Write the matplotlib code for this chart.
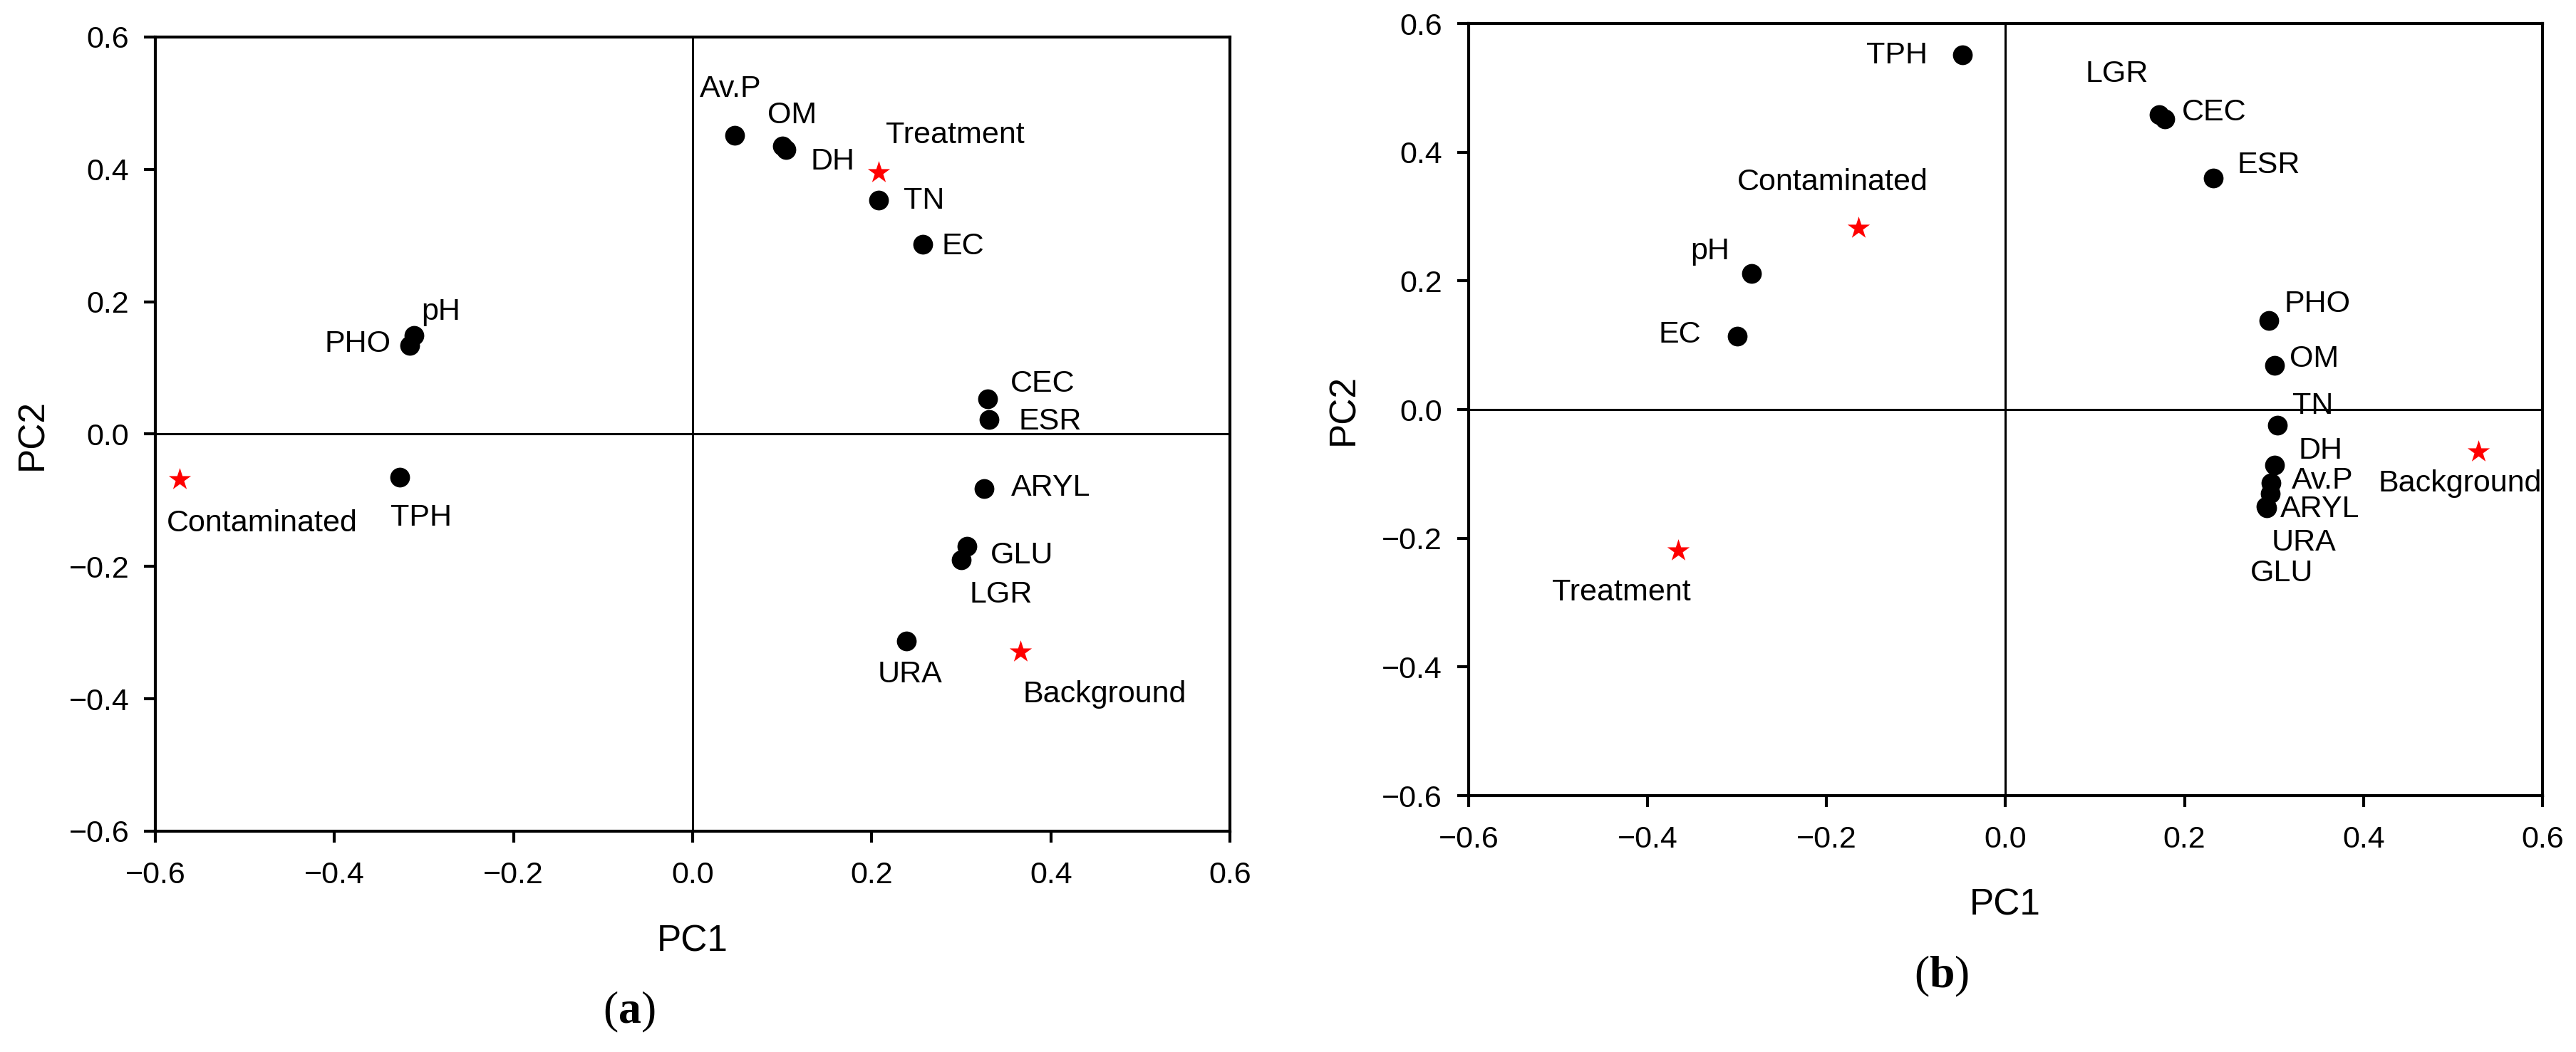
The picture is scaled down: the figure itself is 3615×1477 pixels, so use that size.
"""
PCA biplots of soil properties, panels (a) and (b)
"""

import matplotlib

matplotlib.use("Agg")
import matplotlib.pyplot as plt

plt.rcParams["font.family"] = ["Liberation Sans", "DejaVu Sans"]
plt.rcParams["mathtext.fontset"] = "custom"
plt.rcParams["mathtext.rm"] = "Liberation Serif"
plt.rcParams["mathtext.bf"] = "Liberation Serif:bold"

# panel (a) loadings
VARS_A = ["Av.P", "OM", "DH", "TN", "EC", "pH", "PHO", "CEC", "ESR", "TPH",
          "ARYL", "GLU", "LGR", "URA"]
PC1_A = [0.047, 0.100, 0.104, 0.208, 0.257, -0.311, -0.316, 0.329, 0.331,
         -0.327, 0.325, 0.306, 0.300, 0.239]
PC2_A = [0.451, 0.435, 0.430, 0.354, 0.287, 0.149, 0.134, 0.053, 0.022,
         -0.065, -0.082, -0.170, -0.190, -0.313]

SAMPLES_A = ["Treatment", "Contaminated", "Background"]
S_PC1_A = [0.208, -0.573, 0.366]
S_PC2_A = [0.395, -0.068, -0.329]

# panel (b) loadings
VARS_B = ["TPH", "LGR", "CEC", "ESR", "pH", "EC", "PHO", "OM", "TN", "DH",
          "Av.P", "ARYL", "URA", "GLU"]
PC1_B = [-0.048, 0.172, 0.178, 0.232, -0.284, -0.300, 0.294, 0.301, 0.304,
         0.301, 0.297, 0.296, 0.292, 0.291]
PC2_B = [0.551, 0.458, 0.452, 0.360, 0.212, 0.114, 0.139, 0.069, -0.024,
         -0.086, -0.114, -0.130, -0.153, -0.150]

SAMPLES_B = ["Contaminated", "Background", "Treatment"]
S_PC1_B = [-0.164, 0.528, -0.366]
S_PC2_B = [0.282, -0.065, -0.219]

TICKS = [-0.6, -0.4, -0.2, 0.0, 0.2, 0.4, 0.6]

# label offsets (data units) from each marker
OFF_A = [(-0.005, 0.070), (0.011, 0.047), (0.052, -0.018), (0.050, -0.002),
         (0.045, -0.003), (0.030, 0.036), (-0.058, 0.002), (0.062, 0.023),
         (0.068, -0.003), (0.024, -0.062), (0.075, 0.001), (0.062, -0.014),
         (0.044, -0.053), (0.004, -0.050)]
S_OFF_A = [(0.085, 0.056), (0.092, -0.067), (0.094, -0.064)]
OFF_B = [(-0.073, -0.001), (-0.048, 0.064), (0.055, 0.010), (0.062, 0.020),
         (-0.046, 0.034), (-0.064, 0.002), (0.054, 0.025), (0.044, 0.010),
         (0.039, 0.030), (0.051, 0.022), (0.057, 0.003), (0.055, -0.025),
         (0.041, -0.054), (0.018, -0.105)]
S_OFF_B = [(-0.029, 0.071), (-0.020, -0.050), (-0.063, -0.065)]

FS = 31


def draw_panel(ax, names, pc1, pc2, offs, snames, spc1, spc2, soffs):
    ax.axhline(0, color="black", lw=2.2, zorder=1)
    ax.axvline(0, color="black", lw=2.2, zorder=1)
    ax.scatter(pc1, pc2, s=400, color="black", zorder=3, linewidths=0)
    ax.scatter(spc1, spc2, s=560, marker="*", color="red", zorder=3,
               linewidths=0)
    for n, x, y, (dx, dy) in zip(names, pc1, pc2, offs):
        ax.text(x + dx, y + dy, n, fontsize=FS, ha="center", va="center",
                zorder=4)
    for n, x, y, (dx, dy) in zip(snames, spc1, spc2, soffs):
        ax.text(x + dx, y + dy, n, fontsize=FS, ha="center", va="center",
                zorder=4, clip_on=False)

    ax.set_xlim(-0.6, 0.6)
    ax.set_ylim(-0.6, 0.6)
    ax.set_xticks(TICKS)
    ax.set_yticks(TICKS)
    ax.set_xticklabels([f"{t:.1f}".replace("-", "\u2212") for t in TICKS])
    ax.set_yticklabels([f"{t:.1f}".replace("-", "\u2212") for t in TICKS])
    ax.tick_params(axis="both", direction="out", length=11.5, width=3,
                   labelsize=FS, top=False, right=False)
    ax.tick_params(axis="x", pad=19)
    ax.tick_params(axis="y", pad=15)
    for sp in ax.spines.values():
        sp.set_linewidth(3)


fig = plt.figure(figsize=(36.15, 14.77), dpi=100)

ax_a = fig.add_axes([0.0603, 0.2099, 0.4172, 0.7549])
ax_b = fig.add_axes([0.5701, 0.2437, 0.4169, 0.7339])

draw_panel(ax_a, VARS_A, PC1_A, PC2_A, OFF_A,
           SAMPLES_A, S_PC1_A, S_PC2_A, S_OFF_A)
draw_panel(ax_b, VARS_B, PC1_B, PC2_B, OFF_B,
           SAMPLES_B, S_PC1_B, S_PC2_B, S_OFF_B)

# axis titles placed in figure pixels to match the layout
W, H = 3615, 1477
fig.text(46 / W, 1 - 610 / H, "PC2", fontsize=37, rotation=90,
         ha="center", va="center")
fig.text(972 / W, 1 - 1322 / H, "PC1", fontsize=37, ha="center", va="center")
fig.text(1886 / W, 1 - 575 / H, "PC2", fontsize=37, rotation=90,
         ha="center", va="center")
fig.text(2814 / W, 1 - 1271 / H, "PC1", fontsize=37, ha="center", va="center")

fig.text(883 / W, 1 - 1421 / H, r"($\mathbf{a}$)", fontsize=46,
         family="Liberation Serif", ha="center", va="center")
fig.text(2725 / W, 1 - 1371 / H, r"($\mathbf{b}$)", fontsize=46,
         family="Liberation Serif", ha="center", va="center")

plt.savefig("out.png", dpi=100)
